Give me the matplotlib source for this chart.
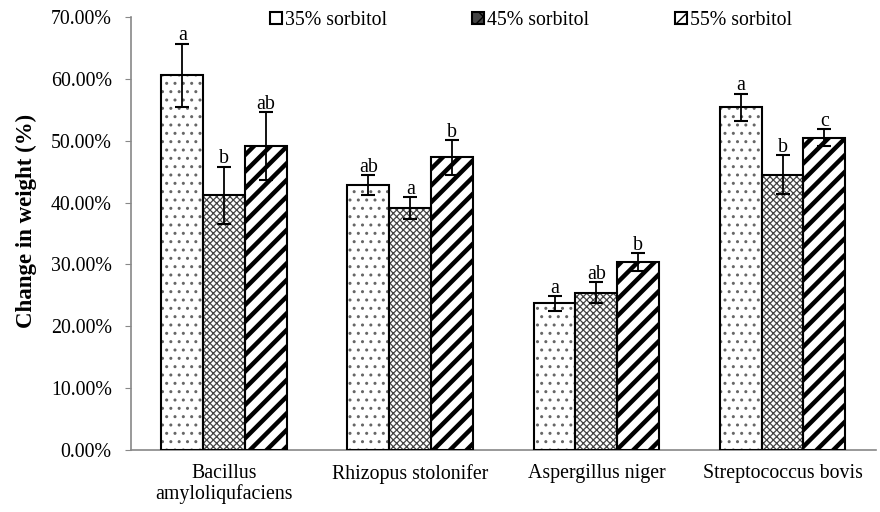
import numpy as np
import matplotlib
matplotlib.use("Agg")
import matplotlib.pyplot as plt
from matplotlib.ticker import FuncFormatter

# Dados
categorias = ["Bacillus\namyloliqufaciens", "Rhizopus stolonifer", "Aspergillus niger", "Streptococcus bovis"]
series = ["35% sorbitol", "45% sorbitol", "55% sorbitol"]
s35 = [60.6, 42.8, 23.7, 55.4]
s45 = [41.2, 39.1, 25.4, 44.5]
s55 = [49.1, 47.3, 30.4, 50.5]
e35 = [5.1, 1.6, 1.2, 2.2]
e45 = [4.6, 1.8, 1.7, 3.2]
e55 = [5.5, 2.8, 1.4, 1.4]
letras35 = ["a", "ab", "a", "a"]
letras45 = ["b", "a", "ab", "b"]
letras55 = ["ab", "b", "b", "c"]

plt.rcParams['font.family'] = ['Liberation Serif', 'DejaVu Serif']
fs = 14.3

fig = plt.figure(figsize=(8.8, 5.12), dpi=100)
ax = fig.add_axes([0.149, 0.121, 0.846, 0.846])

x = np.arange(len(categorias))
w = 0.225

estilos = [
    dict(hatch="..", cor="#666666", lw=1.0),
    dict(hatch="xxxxx", cor="#444444", lw=0.9),
    dict(hatch="//", cor="black", lw=3.2),
]
valores = [s35, s45, s55]
erros = [e35, e45, e55]
letras = [letras35, letras45, letras55]

handles = []
for i in range(3):
    pos = x + (i - 1) * w
    with plt.rc_context({'hatch.linewidth': estilos[i]["lw"]}):
        ax.bar(pos, valores[i], w, color="white", edgecolor=estilos[i]["cor"],
               hatch=estilos[i]["hatch"], linewidth=0, zorder=2)
    ax.bar(pos, valores[i], w, fill=False, edgecolor="black", linewidth=1.5, zorder=3)
    ax.errorbar(pos, valores[i], yerr=erros[i], fmt="none", ecolor="black",
                elinewidth=1.3, capsize=4.7, capthick=1.5, zorder=4)
    for p, v, e, l in zip(pos, valores[i], erros[i], letras[i]):
        ax.text(p, v + e - 0.3, l, ha="center", va="bottom", fontsize=fs, zorder=5)

# marcadores da legenda
with plt.rc_context({'hatch.linewidth': 1.0}):
    handles.append(matplotlib.patches.Rectangle((0, 0), 1, 1, facecolor="white",
                                                edgecolor="black", linewidth=1.5))
    handles.append(matplotlib.patches.Rectangle((0, 0), 1, 1, facecolor="#444444",
                                                edgecolor="black", hatch="xx", linewidth=1.5))
with plt.rc_context({'hatch.linewidth': 3.0}):
    handles.append(matplotlib.patches.Rectangle((0, 0), 1, 1, facecolor="white",
                                                edgecolor="black", hatch="/", linewidth=1.5))

ax.set_ylim(0, 70)
ax.set_xlim(-0.5, 3.5)
ax.set_yticks(np.arange(0, 71, 10))
ax.yaxis.set_major_formatter(FuncFormatter(lambda v, p: "%.2f%%" % v))
ax.set_xticks(x)
ax.set_xticklabels(categorias, fontsize=fs, linespacing=1.1)
ax.tick_params(axis="x", length=0, pad=10)
ax.tick_params(axis="y", labelsize=fs, color="#888888", length=4, pad=10)
for s in ["top", "right"]:
    ax.spines[s].set_visible(False)
ax.spines["left"].set_color("#888888")
ax.spines["bottom"].set_color("#888888")
ax.spines["left"].set_linewidth(1.2)
ax.spines["bottom"].set_linewidth(1.2)

ax.set_ylabel("Change in weight (%)", fontsize=16.5, fontweight="bold")
ax.yaxis.set_label_coords(-0.126, 0.53)

ax.legend(handles, series, loc="upper center", bbox_to_anchor=(0.537, 1.055), ncol=3,
          frameon=False, fontsize=fs, handlelength=0.6, handleheight=0.6,
          handletextpad=0.15, columnspacing=4.3)

fig.savefig("out.png", dpi=100)
